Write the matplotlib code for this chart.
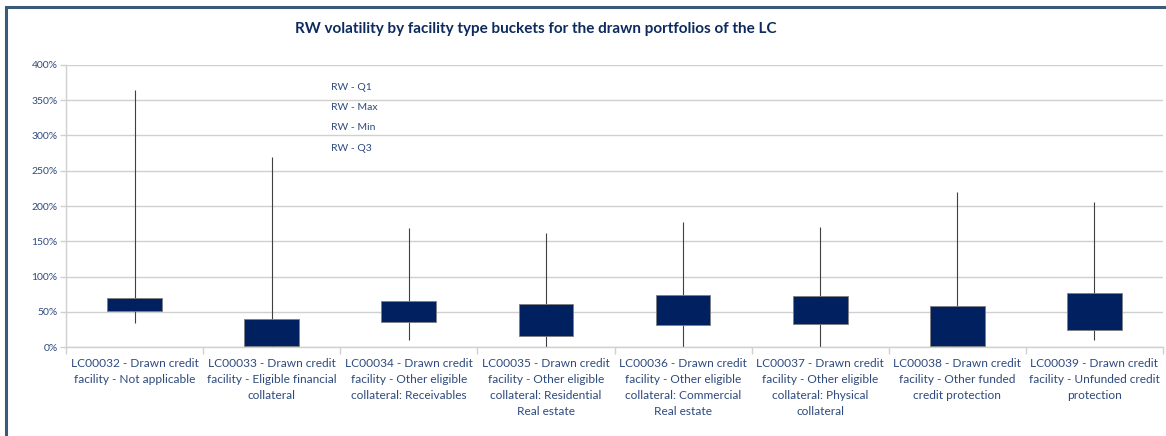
"""RW volatility by facility type buckets (candlestick-style box chart)."""
import matplotlib
matplotlib.use("Agg")
import matplotlib.pyplot as plt
from matplotlib.patches import Rectangle
from matplotlib.ticker import FuncFormatter, FixedLocator
import numpy as np

plt.rcParams["font.family"] = ["Lato", "DejaVu Sans"]

categories = [
    "LC00032 - Drawn credit\nfacility - Not applicable",
    "LC00033 - Drawn credit\nfacility - Eligible financial\ncollateral",
    "LC00034 - Drawn credit\nfacility - Other eligible\ncollateral: Receivables",
    "LC00035 - Drawn credit\nfacility - Other eligible\ncollateral: Residential\nReal estate",
    "LC00036 - Drawn credit\nfacility - Other eligible\ncollateral: Commercial\nReal estate",
    "LC00037 - Drawn credit\nfacility - Other eligible\ncollateral: Physical\ncollateral",
    "LC00038 - Drawn credit\nfacility - Other funded\ncredit protection",
    "LC00039 - Drawn credit\nfacility - Unfunded credit\nprotection",
]
# RW values in percent
rw_q1 = [50.5, 2, 36, 15, 31, 32, 2, 24]
rw_q3 = [69.5, 39.5, 65, 61, 74, 73, 58.5, 76]
rw_min = [34, 0, 10, 0, 0, 0, 0, 9.5]
rw_max = [365, 270, 169, 162, 177, 170, 220, 206]
series_names = ["RW - Q1", "RW - Max", "RW - Min", "RW - Q3"]

NAVY = "#002060"
TEXT = "#2e4a7d"
GRID = "#d0d0d0"

fig = plt.figure(figsize=(11.66, 4.36), dpi=100)
ax = fig.add_axes([66 / 1166, 89 / 436, 1097 / 1166, 282 / 436])

x = np.arange(len(categories))
q1 = np.array(rw_q1)
q3 = np.array(rw_q3)
ax.vlines(x, rw_min, rw_max, color="#404040", linewidth=0.8, zorder=2)
ax.bar(x, q3 - q1, bottom=q1, width=0.4, color=NAVY,
       edgecolor="#7f7f7f", linewidth=0.6, zorder=3)

ax.set_xlim(-0.5, len(categories) - 0.5)
ax.set_ylim(0, 400)
ax.set_yticks(np.arange(0, 401, 50))
ax.yaxis.set_major_formatter(FuncFormatter(lambda v, _: f"{v:.0f}%"))
ax.grid(axis="y", color=GRID, linewidth=1.0, zorder=0)
ax.set_axisbelow(True)

# category boundaries carry the tick marks, labels sit at the centres
ax.xaxis.set_major_locator(FixedLocator(np.arange(-0.5, len(categories), 1.0)))
ax.xaxis.set_minor_locator(FixedLocator(x))
ax.set_xticklabels([""] * (len(categories) + 1))
ax.set_xticklabels(categories, minor=True, fontsize=8.6, color=TEXT,
                   linespacing=1.55)
ax.tick_params(axis="x", which="major", length=5, color=GRID, width=1.0)
ax.tick_params(axis="x", which="minor", length=0, pad=8)
ax.tick_params(axis="y", length=4, color=GRID, width=1.0, labelsize=7.5,
               labelcolor=TEXT, pad=2)

for side in ["top", "right"]:
    ax.spines[side].set_visible(False)
for side in ["left", "bottom"]:
    ax.spines[side].set_color(GRID)
    ax.spines[side].set_linewidth(1.0)

for i, name in enumerate(series_names):
    fig.text(331 / 1166, 1 - (87 + 20.5 * i) / 436, name, fontsize=7.5,
             color=TEXT, va="center", ha="left")

fig.text(536 / 1166, 1 - 29 / 436,
         "RW volatility by facility type buckets for the drawn portfolios of the LC",
         fontsize=11, fontweight="bold", color="#0d2b5e",
         ha="center", va="center")

# chart frame (only top and left edges visible in the crop)
fig.patches.append(Rectangle((6 / 1166, -0.1), 1.2, 1 - 7 / 436 + 0.1,
                             transform=fig.transFigure, fill=False,
                             edgecolor="#3b5a7a", linewidth=2.2))

fig.savefig("out.png", dpi=100)
